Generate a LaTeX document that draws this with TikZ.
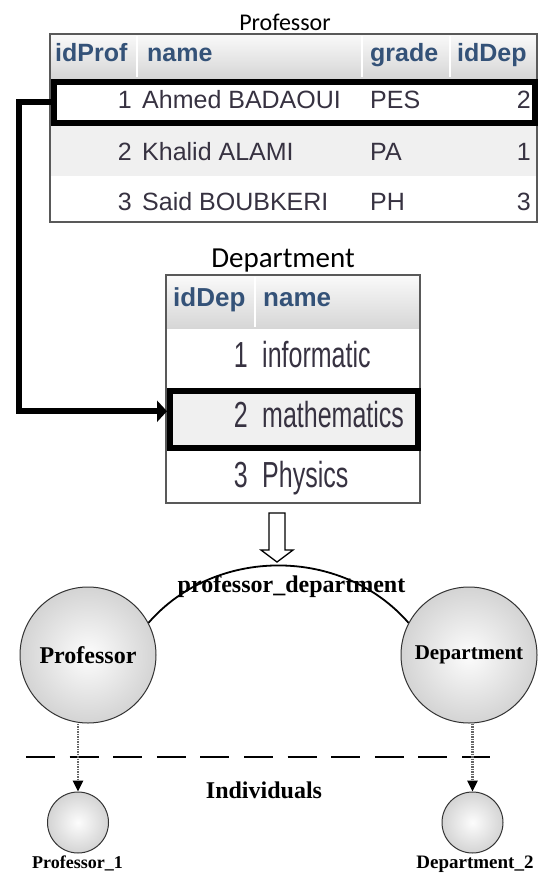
\documentclass[tikz,border=0pt]{standalone}
\usepackage{fontspec}
\setmainfont{Liberation Serif}
\newfontfamily\cellfont{Liberation Sans}
\newfontfamily\titlefont{Carlito}
\usetikzlibrary{arrows.meta}
\definecolor{HeadBlue}{RGB}{52,82,120}
\definecolor{CellGray}{RGB}{55,50,65}
\newcommand{\tallText}[1]{\scalebox{1}[1.45]{#1}}

\begin{document}
\begin{tikzpicture}[x=1pt, y=-1pt]
\tikzset{TitleStyle/.style = {font=\titlefont, anchor=base, inner sep=0},
  HeadStyle/.style = {font=\cellfont\bfseries\fontsize{25}{25}\selectfont, text=HeadBlue, anchor=base west, inner sep=0},
  CellStyle/.style = {font=\cellfont\fontsize{25}{25}\selectfont, text=CellGray, inner sep=0},
  SelStyle/.style = {draw=black, line width=6pt, inner sep=0},
  LinkStyle/.style = {line width=6pt, -{Triangle[length=10pt, width=21pt]}},
  ConceptStyle/.style = {circle, draw=black!80, line width=1pt, inner color=black!1, outer color=black!17, inner sep=0, font=\bfseries\fontsize{22}{22}\selectfont},
  LabelStyle/.style = {inner sep=0, font=\bfseries\fontsize{23}{23}\selectfont},
  DotLink/.style = {draw=black!60, line width=2.5pt, dash pattern=on 1.5pt off 1pt, -{Triangle[length=11pt, width=10pt, color=black]}}
}

    \useasboundingbox (0,0) rectangle (538,875);

    % Professor table
    \node[TitleStyle, font=\titlefont\fontsize{24}{24}\selectfont] (profTitle) at (285,31) {Professor};
    \shade[top color=black!2, bottom color=black!16] (50,34) rectangle (537,78);
    \fill[black!6] (50,125) rectangle (537,176);
    \draw[white, line width=2pt] (137,36) -- (137,77) (362,36) -- (362,77) (450,36) -- (450,77);
    \draw[black!65, line width=1.2pt] (50,34) rectangle (537,222);
    \node[SelStyle, fill=white, minimum width=481pt, minimum height=41pt] (profSel) at (294,102) {};

    \node[HeadStyle] (hIdProf) at (55,62) {idProf};
    \node[HeadStyle] (hName) at (147,62) {name};
    \node[HeadStyle] (hGrade) at (370,62) {grade};
    \node[HeadStyle] (hIdDep) at (457,62) {idDep};

    \node[CellStyle, anchor=base east] (p1id) at (132,108) {1};
    \node[CellStyle, anchor=base west] (p1name) at (142,108) {Ahmed BADAOUI};
    \node[CellStyle, anchor=base west] (p1grade) at (370,108) {PES};
    \node[CellStyle, anchor=base east] (p1dep) at (531,108) {2};

    \node[CellStyle, anchor=base east] (p2id) at (132,160) {2};
    \node[CellStyle, anchor=base west] (p2name) at (142,160) {Khalid ALAMI};
    \node[CellStyle, anchor=base west] (p2grade) at (370,160) {PA};
    \node[CellStyle, anchor=base east] (p2dep) at (531,160) {1};

    \node[CellStyle, anchor=base east] (p3id) at (132,210) {3};
    \node[CellStyle, anchor=base west] (p3name) at (142,210) {Said BOUBKERI};
    \node[CellStyle, anchor=base west] (p3grade) at (370,210) {PH};
    \node[CellStyle, anchor=base east] (p3dep) at (531,210) {3};

    % Department table
    \node[TitleStyle, font=\titlefont\fontsize{29}{29}\selectfont] (depTitle) at (283,267) {Department};
    \shade[top color=black!2, bottom color=black!16] (166,275) rectangle (420,328);
    \draw[white, line width=2pt] (255,277) -- (255,327);
    \draw[black!65, line width=1.2pt] (166,275) rectangle (420,503);
    \node[SelStyle, fill=black!6, minimum width=247.5pt, minimum height=56.5pt] (depSel) at (293.75,419.25) {};

    \node[HeadStyle, font=\cellfont\bfseries\fontsize{26}{26}\selectfont] (dIdDep) at (173,306) {idDep};
    \node[HeadStyle, font=\cellfont\bfseries\fontsize{26}{26}\selectfont] (dName) at (263,306) {name};

    \node[CellStyle, anchor=base east] (d1id) at (248,367) {\tallText{1}};
    \node[CellStyle, anchor=base west] (d1name) at (262,367) {\tallText{informatic}};
    \node[CellStyle, anchor=base east] (d2id) at (248,427) {\tallText{2}};
    \node[CellStyle, anchor=base west] (d2name) at (262,427) {\tallText{mathematics}};
    \node[CellStyle, anchor=base east] (d3id) at (248,487) {\tallText{3}};
    \node[CellStyle, anchor=base west] (d3name) at (262,487) {\tallText{Physics}};

    % foreign key link
    \draw[LinkStyle] (profSel.west) -- ++(-31.5,0) |- ([yshift=8pt]depSel.west);

    % mapping arrow
    \draw[line width=1.3pt, fill=white] (269,513) -- (285,513) -- (285,550) -- (293,550)
        -- (277,562) -- (261,550) -- (269,550) -- cycle;

    % ontology
    \node[ConceptStyle, minimum size=136pt, font=\bfseries\fontsize{24}{24}\selectfont] (profC) at (88,655) {Professor};
    \node[ConceptStyle, minimum size=136pt, font=\bfseries\fontsize{21}{21}\selectfont] (depC) at (469,655) {Department};
    \draw[line width=1.8pt] (profC.28) to[bend left=49] (depC.152);
    \node[LabelStyle, font=\bfseries\fontsize{24}{24}\selectfont] (relLabel) at (291.5,587) {professor\_department};

    \draw[line width=1.5pt, dash pattern=on 29pt off 14.6pt] (26,757) -- (490,757);
    \node[LabelStyle, font=\bfseries\fontsize{24}{24}\selectfont] (indLabel) at (264,790) {Individuals};

    \node[ConceptStyle, minimum size=61pt] (prof1) at (78,822.5) {};
    \node[ConceptStyle, minimum size=61pt] (dep2) at (472.5,822.5) {};
    \draw[DotLink] (prof1.north |- profC.south) -- (prof1.north);
    \draw[DotLink] (dep2.north |- depC.south) -- (dep2.north);

    \node[LabelStyle, anchor=base, font=\bfseries\fontsize{18}{18}\selectfont] (prof1Label) at (77.5,868) {Professor\_1};
    \node[LabelStyle, anchor=base, font=\bfseries\fontsize{19}{19}\selectfont] (dep2Label) at (475,868) {Department\_2};
\end{tikzpicture}
\end{document}
